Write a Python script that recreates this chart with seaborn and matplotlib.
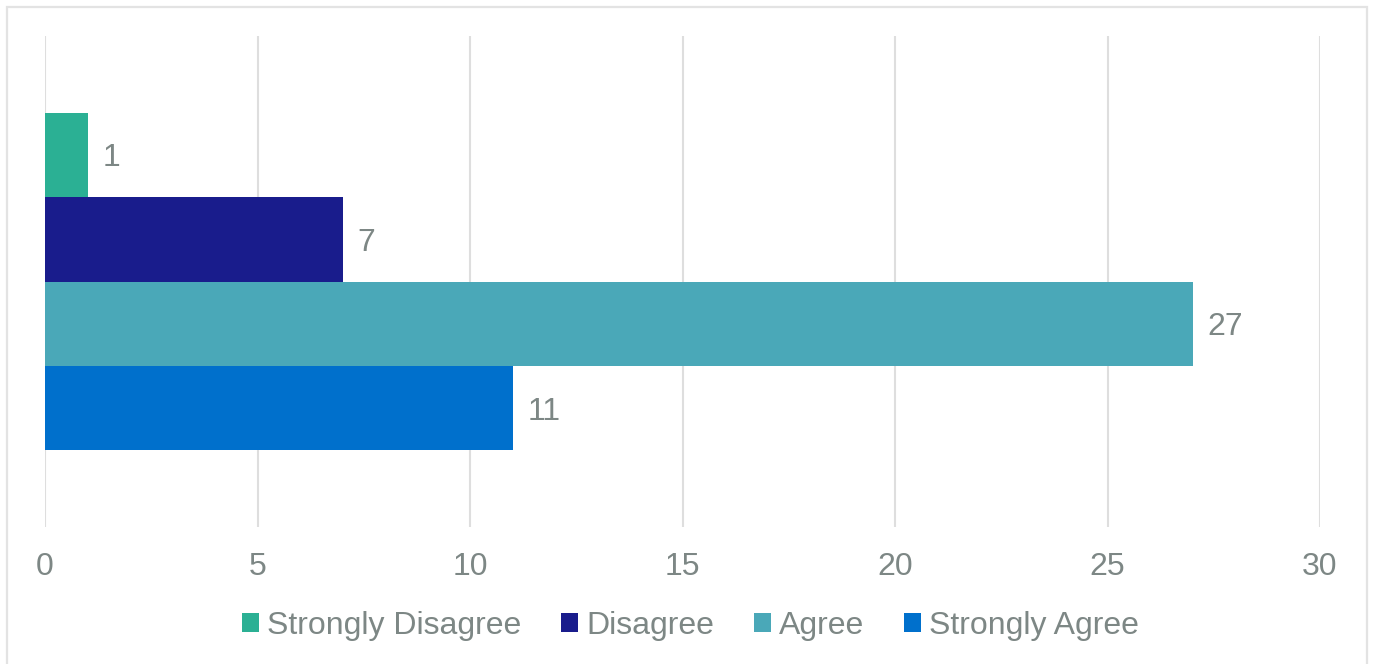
import matplotlib
matplotlib.use("Agg")
import matplotlib.pyplot as plt
from matplotlib.patches import Patch, Rectangle
import seaborn as sns
import pandas as pd

# Survey responses
levels = ["Strongly Disagree", "Disagree", "Agree", "Strongly Agree"]
counts = [1, 7, 27, 11]
colors = ["#2BB094", "#191C8C", "#4AA8B8", "#0070CC"]
x_ticks = [0, 5, 10, 15, 20, 25, 30]

df = pd.DataFrame({"group": [""] * len(levels), "level": levels, "count": counts})

sns.set_theme(style="white")
plt.rcParams["font.family"] = ["Liberation Sans", "DejaVu Sans"]
text_color = "#7D8785"
grid_color = "#DEDEDE"
font_size = 23

fig = plt.figure(figsize=(13.73, 6.64), dpi=100)
ax = fig.add_axes([45 / 1373, 1 - 527 / 664, (1320 - 45) / 1373, (527 - 36) / 664])

sns.barplot(data=df, x="count", y="group", hue="level", hue_order=levels,
            palette=colors, orient="h", width=0.688, gap=0, dodge=True,
            legend=False, ax=ax, saturation=1, linewidth=0, edgecolor="none")

ax.set_xlim(0, 30)
ax.set_ylim(0.5, -0.5)
ax.set_xticks(x_ticks)
ax.set_xticklabels([str(t) for t in x_ticks])
ax.set_yticks([])
ax.set_xlabel("")
ax.set_ylabel("")
ax.tick_params(axis="x", length=0, pad=18, labelsize=font_size, labelcolor=text_color)
for s in ax.spines.values():
    s.set_visible(False)
ax.grid(axis="x", color=grid_color, linewidth=1.5)
ax.set_axisbelow(True)

for container in ax.containers:
    labels = ax.bar_label(container, padding=11, fontsize=font_size, color=text_color)
    for t in labels:
        t.set_verticalalignment("center_baseline")

handles = [Patch(facecolor=c, edgecolor="none") for c in colors]
fig.legend(handles, levels, loc="center", bbox_to_anchor=(0.503, 1 - 626 / 664),
           ncol=4, frameon=False, fontsize=font_size, labelcolor=text_color,
           handlelength=0.53, handleheight=0.53, handletextpad=0.25,
           columnspacing=1.25)

fig.patches.append(Rectangle((7 / 1373, -0.05), (1367 - 7) / 1373, 1.05 - 7 / 664,
                             transform=fig.transFigure, fill=False,
                             edgecolor="#E3E3E3", linewidth=1.6))

fig.savefig("out.png", dpi=100, facecolor="white")
